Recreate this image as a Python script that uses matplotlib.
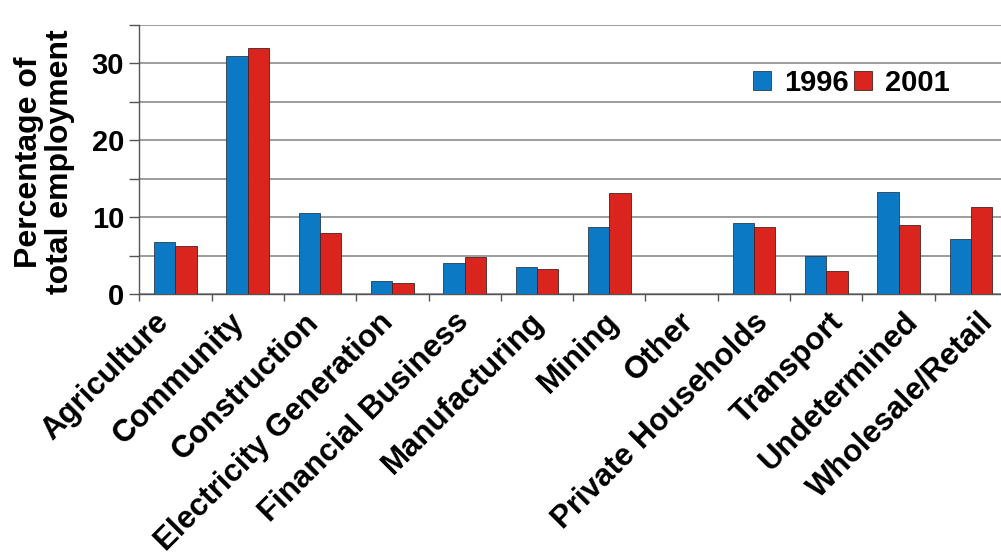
import numpy as np
import matplotlib
matplotlib.use('Agg')
import matplotlib.pyplot as plt
import matplotlib.transforms as mtransforms

plt.rcParams['font.family'] = ['Liberation Sans', 'DejaVu Sans']

# share of total employment (%) per sector
sectors = ['Agriculture', 'Community', 'Construction', 'Electricity Generation',
           'Financial Business', 'Manufacturing', 'Mining', 'Other',
           'Private Households', 'Transport', 'Undetermined', 'Wholesale/Retail']
y1996 = [6.7, 31.0, 10.5, 1.7, 4.0, 3.5, 8.7, 0.0, 9.2, 5.0, 13.3, 7.2]
y2001 = [6.3, 32.0, 8.0, 1.4, 4.8, 3.2, 13.2, 0.0, 8.7, 3.0, 9.0, 11.3]
years = ['1996', '2001']

blue = '#0b79c4'
red = '#d9251d'
grid_col = '#8c8c8c'
axis_col = '#555555'

fig = plt.figure(figsize=(10.01, 5.57), dpi=100)
ax = fig.add_axes([0.1392, 0.4722, 0.8668, 0.4829])

x = np.arange(len(sectors))
w = 0.295
ax.bar(x - w/2, y1996, w, color=blue, edgecolor='#2b3a4a', linewidth=0.6, label=years[0], zorder=3)
ax.bar(x + w/2, y2001, w, color=red, edgecolor='#4a2020', linewidth=0.6, label=years[1], zorder=3)

ax.set_xlim(-0.5, len(sectors) - 0.5)
ax.set_ylim(0, 35)
ax.set_yticks(np.arange(0, 36, 5))
ax.set_yticklabels(['0', '', '10', '', '20', '', '30', ''])
ax.yaxis.grid(True, color=grid_col, linewidth=1.2, zorder=0)
ax.set_axisbelow(True)

# tick marks on the group boundaries, names under the group centres
ax.set_xticks(np.arange(-0.5, len(sectors)))
ax.set_xticklabels([])
ax.set_xticks(x, minor=True)
ax.set_xticklabels(sectors, minor=True, rotation=45, ha='right', va='center',
                   rotation_mode='anchor', fontsize=22.5, fontweight='bold')
ax.tick_params(axis='x', which='minor', length=0, pad=17)
ax.tick_params(axis='x', which='major', length=5, color=axis_col, width=1)
ax.tick_params(axis='y', length=7, color=axis_col, width=1, labelsize=21, pad=4)
for lab in ax.get_yticklabels():
    lab.set_fontweight('bold')

# names drift slightly rightwards along the axis
for i, lab in enumerate(ax.get_xticklabels(minor=True)):
    dx = (-11 + 2.6 * i) / 100.0
    lab.set_transform(lab.get_transform() +
                      mtransforms.ScaledTranslation(dx, 0, fig.dpi_scale_trans))

for s in ['top', 'right']:
    ax.spines[s].set_visible(False)
for s in ['left', 'bottom']:
    ax.spines[s].set_color(axis_col)
    ax.spines[s].set_linewidth(1.0)

ax.set_ylabel('Percentage of\ntotal employment', fontsize=23, fontweight='bold',
              linespacing=1.05)
ax.yaxis.set_label_coords(-0.074, 0.49)

ax.legend(loc='center left', bbox_to_anchor=(0.690, 0.786), frameon=False,
          ncol=2, prop={'weight': 'bold', 'size': 21},
          handlelength=0.62, handleheight=0.62, handletextpad=0.45,
          columnspacing=0.2, borderpad=0)

fig.savefig('out.png', dpi=100)
